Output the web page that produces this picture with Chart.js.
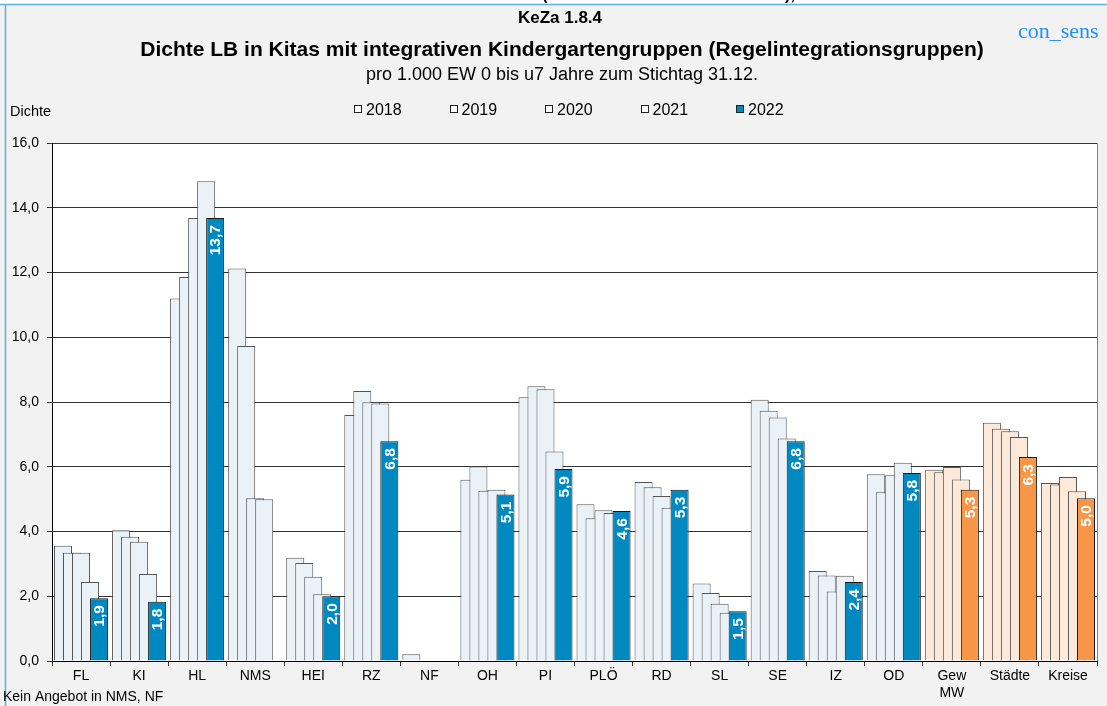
<!DOCTYPE html>
<html>
<head>
<meta charset="utf-8">
<script src="https://cdn.jsdelivr.net/npm/chart.js@4"></script>
<style>
  html, body { margin: 0; padding: 0; background: #f2f2f2; }
  #wrap { width: 1107px; height: 706px; position: relative; }
</style>
</head>
<body>
<div id="wrap"><canvas id="chart"></canvas></div>
<script>
// Kategorien und Werte (Dichte je 1.000 EW 0 bis u7 Jahre)
const categories = ["FL", "KI", "HL", "NMS", "HEI", "RZ", "NF", "OH", "PI", "PLÖ", "RD", "SL", "SE", "IZ", "OD", ["Gew", "MW"], "Städte", "Kreise"];
const years = ["2018", "2019", "2020", "2021", "2022"];
const v2018 = [3.56, 4.04, 11.2, 12.12, 3.19, 7.6, 0.21, 5.6, 8.15, 4.84, 5.53, 2.39, 8.07, 2.78, 5.77, 5.91, 7.36, 5.5];
const v2019 = [3.34, 3.84, 11.86, 9.73, 3.03, 8.34, null, 6.01, 8.49, 4.41, 5.37, 2.1, 7.73, 2.64, 5.21, 5.83, 7.17, 5.45];
const v2020 = [3.34, 3.68, 13.68, 5.03, 2.6, 7.99, null, 5.26, 8.39, 4.66, 5.1, 1.77, 7.52, 2.15, 5.74, 5.99, 7.1, 5.68];
const v2021 = [2.44, 2.69, 14.82, 5.0, 2.06, 7.95, null, 5.29, 6.47, 4.57, 4.73, 1.49, 6.87, 2.63, 6.12, 5.61, 6.92, 5.24];
const v2022 = [1.94, 1.83, 13.68, null, 2.0, 6.79, null, 5.14, 5.93, 4.63, 5.29, 1.54, 6.79, 2.44, 5.81, 5.29, 6.3, 5.03];
const yTicks = [0, 2, 4, 6, 8, 10, 12, 14, 16];
const aggStart = 15; // ab hier: Gew MW, Städte, Kreise

const FONT = "'Liberation Sans', Arial, sans-serif";
const lightBlue = "#eaf2f8", darkBlue = "#0089c1";
const lightOrange = "#fde9d9", darkOrange = "#f79646";

const fmt = v => v.toFixed(1).replace(".", ",");

function colorsFor(isLast) {
  return categories.map((c, i) => {
    if (i >= aggStart) return isLast ? darkOrange : lightOrange;
    return isLast ? darkBlue : lightBlue;
  });
}

const series = [v2018, v2019, v2020, v2021, v2022];
const datasets = series.map((data, k) => ({
  label: years[k],
  data,
  backgroundColor: colorsFor(k === 4),
  borderColor: k === 4 ? "#1a1a1a" : "#555555",
  borderWidth: 1,
  categoryPercentage: 0.776,
  barPercentage: 2.0
}));

const bgPlugin = {
  id: "bg",
  beforeDraw(chart) {
    const { ctx, chartArea: a } = chart;
    ctx.save();
    ctx.fillStyle = "#f2f2f2";
    ctx.fillRect(0, 0, chart.width, chart.height);
    ctx.fillStyle = "#ffffff";
    ctx.fillRect(0, 0, chart.width, 4);
    ctx.fillRect(a.left, a.top, a.right - a.left, a.bottom - a.top);
    ctx.strokeStyle = "#5ab2de";
    ctx.lineWidth = 1.5;
    ctx.beginPath();
    ctx.moveTo(0, 4.5); ctx.lineTo(chart.width, 4.5);
    ctx.moveTo(5.5, 4.5); ctx.lineTo(5.5, chart.height);
    ctx.stroke();
    ctx.restore();
  },
  beforeDatasetsDraw(chart) {
    // spätere Jahre überdecken frühere: von links nach rechts zeichnen
    for (let k = 0; k < series.length; k++) {
      chart._drawDataset(chart.getDatasetMeta(k));
    }
    const { ctx, chartArea: a } = chart;
    // Wertebeschriftung 2022
    const meta = chart.getDatasetMeta(4);
    ctx.save();
    ctx.fillStyle = "#ffffff";
    ctx.font = "bold 15.5px " + FONT;
    ctx.textAlign = "right";
    ctx.textBaseline = "middle";
    meta.data.forEach((bar, i) => {
      const v = v2022[i];
      if (v == null) return;
      ctx.save();
      ctx.translate(bar.x + 1, bar.y + 7);
      ctx.rotate(-Math.PI / 2);
      ctx.fillText(fmt(v), 0, 0);
      ctx.restore();
    });
    // rechter Rand der Zeichenfläche
    ctx.strokeStyle = "#808080";
    ctx.lineWidth = 1;
    ctx.beginPath();
    ctx.moveTo(Math.round(a.right) + 0.5, a.top);
    ctx.lineTo(Math.round(a.right) + 0.5, a.bottom);
    ctx.stroke();
    ctx.restore();
    return false;
  },
  afterDraw(chart) {
    const { ctx } = chart;
    ctx.save();
    ctx.fillStyle = "#000";
    ctx.textAlign = "center";
    ctx.textBaseline = "alphabetic";
    ctx.font = "bold 16px " + FONT;
    ctx.fillText("(", 545, 0);
    ctx.fillText("),", 790, 0);
    ctx.font = "bold 17px " + FONT;
    ctx.fillText("KeZa 1.8.4", 560, 23);
    ctx.font = "bold 21px " + FONT;
    ctx.fillText("Dichte LB in Kitas mit integrativen Kindergartengruppen (Regelintegrationsgruppen)", 562, 56);
    ctx.font = "18px " + FONT;
    ctx.fillText("pro 1.000 EW 0 bis u7 Jahre zum Stichtag 31.12.", 562, 80);

    ctx.textAlign = "left";
    ctx.font = "14.5px " + FONT;
    ctx.fillText("Dichte", 10, 116);
    ctx.font = "14px " + FONT;
    ctx.fillText("Kein Angebot in NMS, NF", 3, 701);

    ctx.fillStyle = "#1e90ff";
    ctx.font = "22px 'Liberation Serif', serif";
    ctx.fillText("con_sens", 1018, 38);

    // Legende
    ctx.font = "16px " + FONT;
    years.forEach((y, k) => {
      const x = 354 + 95.5 * k;
      ctx.fillStyle = k === 4 ? darkBlue : "#ffffff";
      ctx.fillRect(Math.round(x) + 0.5, 105.5, 7, 7);
      ctx.strokeStyle = "#222";
      ctx.lineWidth = 1;
      ctx.strokeRect(Math.round(x) + 0.5, 105.5, 7, 7);
      ctx.fillStyle = "#000";
      ctx.fillText(y, x + 12, 114.5);
    });
    ctx.restore();
  }
};

new Chart(document.getElementById("chart"), {
  type: "bar",
  data: { labels: categories, datasets },
  options: {
    responsive: true,
    maintainAspectRatio: false,
    animation: false,
    layout: { padding: { left: 0, right: 10, top: 143, bottom: 0 } },
    plugins: {
      legend: { display: false },
      title: { display: false },
      tooltip: { enabled: false }
    },
    scales: {
      x: {
        offset: true,
        grid: { display: true, drawOnChartArea: false, offset: true, tickLength: 5, color: "#333" },
        border: { color: "#000", width: 1 },
        ticks: { color: "#000", font: { family: FONT, size: 14 }, padding: 2, maxRotation: 0, autoSkip: false },
        afterFit(scale) { scale.height = 45; }
      },
      y: {
        min: 0,
        max: 16,
        afterBuildTicks(scale) { scale.ticks = yTicks.map(v => ({ value: v })); },
        grid: { color: "#333", tickLength: 5, lineWidth: 1 },
        border: { color: "#000", width: 1 },
        ticks: { color: "#000", font: { family: FONT, size: 14 }, padding: 8, callback: v => fmt(v) },
        afterFit(scale) { scale.width = 52; }
      }
    }
  },
  plugins: [bgPlugin]
});
</script>
</body>
</html>
